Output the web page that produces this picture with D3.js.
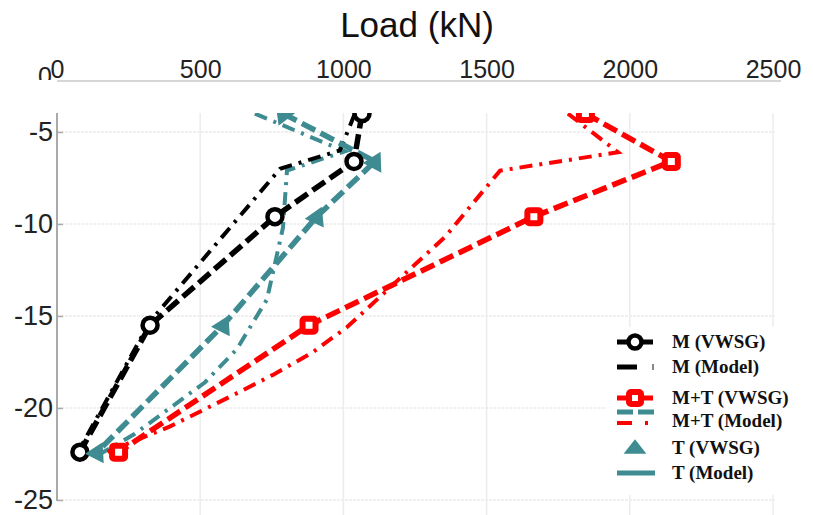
<!DOCTYPE html>
<head>
  <meta charset="utf-8">
  <script src="https://d3js.org/d3.v7.min.js"></script>
  <style>
  body,html {margin:0; background:#fff;}
  .tick text {font-family:"Liberation Sans", Arial, sans-serif; fill:#222;}
  .leg {font-family:"Liberation Serif", "DejaVu Serif", serif; font-weight:bold; font-size:19px; fill:#111;}
  </style>
</head>
<body>
<script>

const W = 813, H = 515;

// gauge depths (m) and loads (kN)
const depthVWSG = [-4, -6.6, -9.6, -15.5, -22.4];
const loadM_VWSG = [1065, 1037, 761, 325, 80];
const loadMT_VWSG = [1845, 2145, 1665, 880, 215];
const loadT_VWSG = [790, 1110, 907, 580, 140];

const depthM_Model = [-4, -6, -7, -15.3, -22.4];
const loadM_Model = [1040, 988, 779, 325, 73];

const depthMT_Model = [-4, -6.1, -7.1, -10.7, -15.6, -17.0, -18.2, -19.3, -21.0, -22.5];
const loadMT_Model = [1784, 1959, 1547, 1355, 1013, 890, 754, 615, 395, 157];

const depthT_Model = [-4, -6.05, -7.1, -10.2, -14.1, -16.8, -18.6, -21.4, -22.5];
const loadT_Model = [691, 1005, 803, 789, 733, 628, 517, 272, 150];

const xTicks = [0, 500, 1000, 1500, 2000, 2500];
const yTicks = [-5, -10, -15, -20, -25];
const legendLabels = ["M (VWSG)", "M (Model)", "M+T (VWSG)", "M+T (Model)", "T (VWSG)", "T (Model)"];

const TEAL = "#3e8c92", RED = "#ff0000", BLACK = "#000";

const x = d3.scaleLinear().domain([0, 2500]).range([57, 773]);
const y = d3.scaleLinear().domain([0, -25]).range([40, 500]);

const svg = d3.select("body").append("svg")
  .attr("width", W).attr("height", H);

svg.append("rect").attr("width", W).attr("height", H).attr("fill", "#fff");

svg.append("clipPath").attr("id", "plotclip")
  .append("rect").attr("x", 0).attr("y", 113).attr("width", W).attr("height", H - 113);

svg.append("clipPath").attr("id", "zeroclip")
  .append("rect").attr("x", 0).attr("y", 0).attr("width", 56).attr("height", 80);

// title
svg.append("text")
  .attr("x", 417).attr("y", 37)
  .attr("text-anchor", "middle")
  .style("font-family", "Liberation Sans, Arial, sans-serif")
  .style("font-size", "35px")
  .attr("fill", "#111")
  .text("Load (kN)");

// top axis
const topAx = svg.append("g")
  .attr("transform", "translate(0,81)")
  .call(d3.axisTop(x).tickValues(xTicks).tickSize(0).tickPadding(3).tickFormat(d => String(d)));
topAx.select(".domain").remove();
topAx.selectAll("text").style("font-size", "25px");
svg.append("line").attr("x1", 57).attr("x2", 781).attr("y1", 81).attr("y2", 81)
  .attr("stroke", "#c8c8c8").attr("stroke-width", 1.5);

// clipped "0" of the hidden depth axis top
svg.append("text").attr("clip-path", "url(#zeroclip)")
  .attr("x", 52).attr("y", y(0) + 45)
  .attr("text-anchor", "end")
  .style("font-family", "Liberation Sans, Arial, sans-serif")
  .style("font-size", "25px").attr("fill", "#222")
  .text("0");

// grid
const grid = svg.append("g");
grid.selectAll(".vg").data(xTicks.slice(1)).enter().append("line")
  .attr("x1", d => x(d)).attr("x2", d => x(d))
  .attr("y1", 113).attr("y2", H)
  .attr("stroke", "#ececec").attr("stroke-width", 1.5);
grid.selectAll(".hg").data(yTicks).enter().append("line")
  .attr("x1", x(0)).attr("x2", x(2500) + 2)
  .attr("y1", d => y(d)).attr("y2", d => y(d))
  .attr("stroke", "#ececec").attr("stroke-width", 1.5).attr("stroke-dasharray", "3,1");

// left axis
const leftAx = svg.append("g")
  .attr("transform", "translate(57,0)")
  .call(d3.axisLeft(y).tickValues(yTicks).tickSize(-6).tickPadding(4).tickFormat(d => String(d)));
leftAx.select(".domain").remove();
leftAx.selectAll(".tick line").attr("stroke", "#aaa").attr("stroke-width", 1.5);
leftAx.selectAll("text").style("font-size", "27px");
svg.append("line").attr("x1", 57).attr("x2", 57).attr("y1", 113).attr("y2", 501)
  .attr("stroke", "#aaa").attr("stroke-width", 2);

// series
const line = d3.line().x(d => x(d[0])).y(d => y(d[1]));
const plot = svg.append("g").attr("clip-path", "url(#plotclip)");

function model(loads, depths, color) {
  plot.append("path").datum(d3.zip(loads, depths))
    .attr("d", line).attr("fill", "none")
    .attr("stroke", color).attr("stroke-width", 4)
    .attr("stroke-dasharray", "13,7,3,7");
}
function vwsg(loads, color) {
  plot.append("path").datum(d3.zip(loads, depthVWSG))
    .attr("d", line).attr("fill", "none")
    .attr("stroke", color).attr("stroke-width", 5.5)
    .attr("stroke-dasharray", "15,6");
}

model(loadT_Model, depthT_Model, TEAL);
model(loadM_Model, depthM_Model, BLACK);
model(loadMT_Model, depthMT_Model, RED);
vwsg(loadT_VWSG, TEAL);
vwsg(loadM_VWSG, BLACK);
vwsg(loadMT_VWSG, RED);

// markers
plot.selectAll(".mc").data(d3.zip(loadM_VWSG, depthVWSG)).enter().append("circle")
  .attr("cx", d => x(d[0])).attr("cy", d => y(d[1])).attr("r", 7.5)
  .attr("fill", "#fff").attr("stroke", BLACK).attr("stroke-width", 4.5);

plot.selectAll(".ms").data(d3.zip(loadMT_VWSG, depthVWSG)).enter().append("rect")
  .attr("x", d => x(d[0]) - 6.5).attr("y", d => y(d[1]) - 6.5)
  .attr("width", 13).attr("height", 13).attr("rx", 2)
  .attr("fill", "#fff").attr("stroke", RED).attr("stroke-width", 6);

const tri = d3.symbol().type(d3.symbolTriangle).size(190);
const tPts = d3.zip(loadT_VWSG, depthVWSG).map(d => [x(d[0]), y(d[1])]);
plot.selectAll(".mt").data(tPts).enter().append("path")
  .attr("d", tri)
  .attr("transform", (p, i) => {
    const q = i < tPts.length - 1 ? tPts[i + 1] : tPts[i - 1];
    let vx = p[0] - q[0], vy = p[1] - q[1];
    if (i === tPts.length - 1) { vx = -vx; vy = -vy; }
    const a = Math.atan2(vx, -vy) * 180 / Math.PI * 0.6;
    return `translate(${p[0]},${p[1] + 1}) rotate(${a})`;
  })
  .attr("fill", TEAL);

// legend
const leg = svg.append("g");
leg.append("rect").attr("x", 606).attr("y", 327).attr("width", 186).attr("height", 168).attr("fill", "#fff");
const rowY = [342, 367, 398, 421, 448, 473];
leg.selectAll(".lt").data(legendLabels).enter().append("text")
  .attr("class", "leg")
  .attr("x", 672).attr("y", (d, i) => rowY[i] + 6)
  .text(d => d);

leg.append("line").attr("x1", 617).attr("x2", 653).attr("y1", rowY[0]).attr("y2", rowY[0])
  .attr("stroke", BLACK).attr("stroke-width", 5);
leg.append("circle").attr("cx", 635).attr("cy", rowY[0]).attr("r", 6.5)
  .attr("fill", "#fff").attr("stroke", BLACK).attr("stroke-width", 4.5);

leg.append("line").attr("x1", 617).attr("x2", 637).attr("y1", rowY[1]).attr("y2", rowY[1])
  .attr("stroke", BLACK).attr("stroke-width", 5);
leg.append("line").attr("x1", 653).attr("x2", 653).attr("y1", rowY[1] - 3).attr("y2", rowY[1] + 3)
  .attr("stroke", "#888").attr("stroke-width", 2);

leg.append("line").attr("x1", 617).attr("x2", 653).attr("y1", rowY[2]).attr("y2", rowY[2])
  .attr("stroke", RED).attr("stroke-width", 5);
leg.append("rect").attr("x", 629).attr("y", rowY[2] - 6).attr("width", 12).attr("height", 12).attr("rx", 2)
  .attr("fill", "#fff").attr("stroke", RED).attr("stroke-width", 6);

leg.append("line").attr("x1", 617).attr("x2", 654).attr("y1", rowY[3] - 9).attr("y2", rowY[3] - 9)
  .attr("stroke", TEAL).attr("stroke-width", 5).attr("stroke-dasharray", "16,5");
leg.append("line").attr("x1", 617).attr("x2", 651).attr("y1", rowY[3] + 2).attr("y2", rowY[3] + 2)
  .attr("stroke", RED).attr("stroke-width", 4).attr("stroke-dasharray", "15,13,3,10");

leg.append("path").attr("d", d3.symbol().type(d3.symbolTriangle).size(170))
  .attr("transform", `translate(635,${rowY[4] + 1}) scale(1.15,0.85)`).attr("fill", TEAL);

leg.append("line").attr("x1", 617).attr("x2", 655).attr("y1", rowY[5]).attr("y2", rowY[5])
  .attr("stroke", TEAL).attr("stroke-width", 5);

</script>
</body>
